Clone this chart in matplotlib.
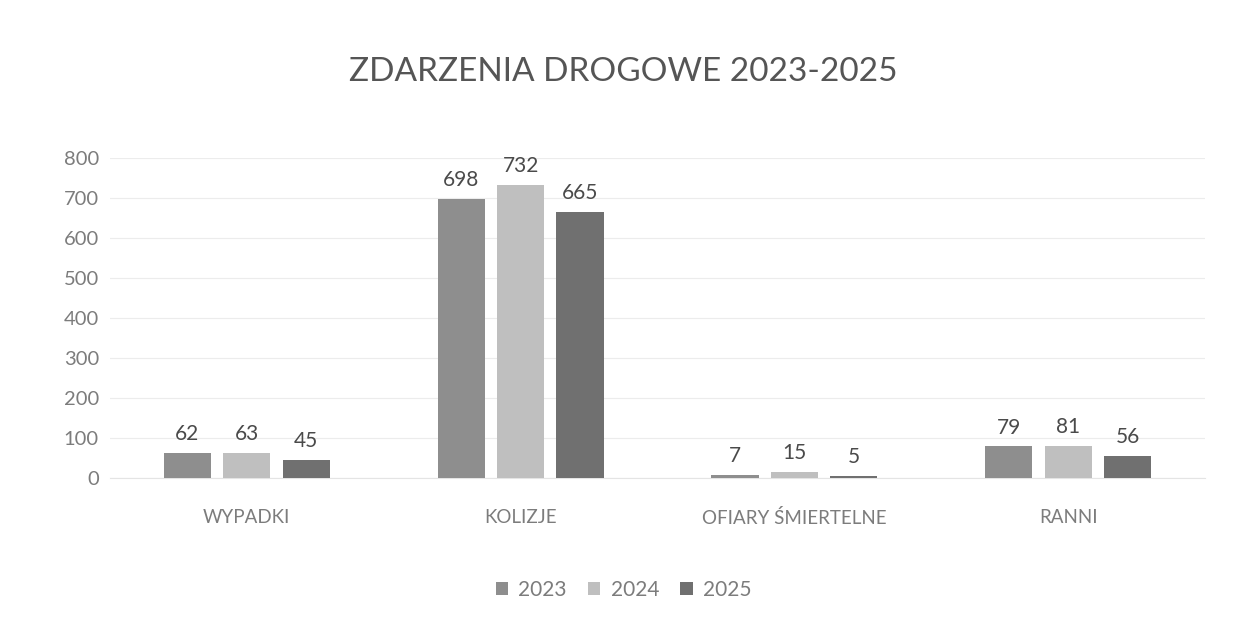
import matplotlib
matplotlib.use("Agg")
import matplotlib.pyplot as plt
import numpy as np

plt.rcParams['font.family'] = ['Lato', 'DejaVu Sans']

categories = ["WYPADKI", "KOLIZJE", "OFIARY ŚMIERTELNE", "RANNI"]
years = ["2023", "2024", "2025"]
v2023 = [62, 698, 7, 79]
v2024 = [63, 732, 15, 81]
v2025 = [45, 665, 5, 56]
yticks = [0, 100, 200, 300, 400, 500, 600, 700, 800]

colors = ["#8e8e8e", "#bfbfbf", "#707070"]

fig = plt.figure(figsize=(12.47, 6.18), dpi=100)
ax = fig.add_axes([110/1247, 1 - 478/618, (1205-110)/1247, (478-158)/618])

x = np.arange(len(categories))
w = 0.172
gap = 0.045
series = [v2023, v2024, v2025]
for i, (vals, c, yr) in enumerate(zip(series, colors, years)):
    offs = (i - 1) * (w + gap)
    bars = ax.bar(x + offs, vals, width=w, color=c, label=yr, zorder=3)
    for b, v in zip(bars, vals):
        ax.text(b.get_x() + b.get_width()/2, v + 22, str(v), ha='center', va='bottom',
                fontsize=15, color='#4a4a4a')

ax.set_xlim(-0.5, 3.5)
ax.set_ylim(0, 800)
ax.set_yticks(yticks)
ax.set_yticklabels([str(t) for t in yticks], fontsize=14.5, color='#7c7c7c')
ax.set_xticks(x)
ax.set_xticklabels(categories, fontsize=13.5, color='#7c7c7c')
for t in ax.get_xticklabels():
    t.set_fontstretch('expanded')
ax.tick_params(axis='both', length=0)
ax.tick_params(axis='y', pad=8)
ax.tick_params(axis='x', pad=22)
ax.grid(axis='y', color='#ececec', linewidth=0.8, zorder=0)
for s in ax.spines.values():
    s.set_visible(False)
ax.spines['bottom'].set_visible(True)
ax.spines['bottom'].set_color('#e4e4e4')

fig.text(0.5, 1 - 72/618, "ZDARZENIA DROGOWE 2023-2025", ha='center', va='center',
         fontsize=24, color='#555555')

leg = fig.legend(loc='center', bbox_to_anchor=(0.5, 1 - 590/618), ncol=3, frameon=False,
                 handlelength=0.6, handleheight=0.6, columnspacing=1.0,
                 handletextpad=0.5, prop={'size': 15})
for t in leg.get_texts():
    t.set_color('#7c7c7c')

fig.savefig("out.png", dpi=100, facecolor='white')
